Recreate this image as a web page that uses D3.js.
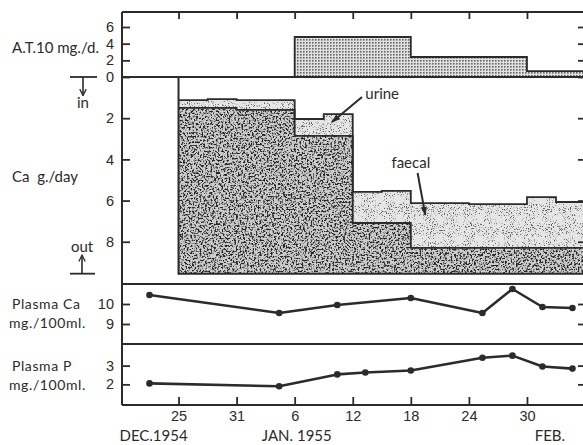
<!DOCTYPE html>
<html>
<head>
<meta charset="utf-8">
<script src="https://cdn.jsdelivr.net/npm/d3@7"></script>
<style>
    body { margin: 0; background: #fff; }
    svg { display: block; font-family: Lato, "Open Sans", sans-serif; }
    .axis text { font-size: 14.5px; fill: #2b2b2b; }
    .axis line { stroke: #2b2b2b; stroke-width: 1.8; }
    .axis path { display: none; }
    .label { font-size: 15px; fill: #2b2b2b; }
    .label.small { font-size: 14px; letter-spacing: 0.6px; }
</style>
</head>
<body>
<div id="chart"></div>
<script>
// days counted from 25 Dec 1954
const dayTicks = [0, 6, 12, 18, 24, 30, 36];
const dayTickLabels = ["25", "31", "6", "12", "18", "24", "30"];
const monthLabels = ["DEC.1954", "JAN. 1955", "FEB."];
const monthLabelDays = [-6.1, 8.6, 36.8];

// A.T.10 dose, mg/day, per period
const at10Bounds = [12, 24, 36, 42];
const at10Dose = [4.8, 2.4, 0.7];

// calcium balance, g/day (plotted downward from zero)
const caBounds = [0, 3, 6, 12, 15, 18, 21, 24, 30, 36, 39, 42];
const caLightTop = [1.12, 1.07, 1.12, 2.04, 1.80, 5.58, 5.53, 6.12, 6.17, 5.83, 6.07];
const caDarkTop = [1.50, 1.50, 1.60, 2.86, 2.86, 7.09, 7.09, 8.30, 8.30, 8.30, 8.30];
const caBase = 9.55;

// plasma values, mg/100ml
const plasmaCaDays = [-3, 10.4, 16.4, 24, 31.4, 34.5, 37.6, 40.7];
const plasmaCa = [10.45, 9.55, 9.95, 10.3, 9.55, 10.75, 9.85, 9.8];
const plasmaPDays = [-3, 10.4, 16.4, 19.3, 24, 31.4, 34.5, 37.6, 40.7];
const plasmaP = [2.05, 1.9, 2.53, 2.63, 2.74, 3.42, 3.53, 2.95, 2.84];

const ink = "#2b2b2b";
const W = 583, H = 445;
const left = 122, right = 586;
const rows = { top: 12, zero: 77, caBottom: 284, pBoundary: 344, bottom: 405 };

const svg = d3.select("#chart").append("svg")
    .attr("width", W)
    .attr("height", H);

const defs = svg.append("defs");

function grain(id, freq, gain, offset, speck) {
    const f = defs.append("filter")
        .attr("id", id)
        .attr("x", 0).attr("y", 0).attr("width", 1).attr("height", 1)
        .attr("color-interpolation-filters", "sRGB");
    f.append("feTurbulence")
        .attr("type", "fractalNoise")
        .attr("baseFrequency", freq)
        .attr("numOctaves", 2)
        .attr("seed", 5)
        .attr("result", "noise");
    f.append("feColorMatrix")
        .attr("in", "noise")
        .attr("type", "matrix")
        .attr("values", `0 0 0 0 ${speck} 0 0 0 0 ${speck} 0 0 0 0 ${speck} ${-gain} 0 0 0 ${offset}`)
        .attr("result", "specks");
    f.append("feComposite")
        .attr("in", "specks")
        .attr("in2", "SourceGraphic")
        .attr("operator", "in")
        .attr("result", "clipped");
    const m = f.append("feMerge");
    m.append("feMergeNode").attr("in", "SourceGraphic");
    m.append("feMergeNode").attr("in", "clipped");
}
grain("grain-dark", 0.55, 6, 3.1, 0.14);
grain("grain-light", 0.95, 8, 3.3, 0.38);

const dots = defs.append("pattern")
    .attr("id", "dots")
    .attr("patternUnits", "userSpaceOnUse")
    .attr("width", 3).attr("height", 3);
dots.append("rect").attr("width", 3).attr("height", 3).attr("fill", "#e0e0e0");
dots.append("rect").attr("width", 1.6).attr("height", 1.6).attr("fill", "#666");

defs.append("marker")
    .attr("id", "head")
    .attr("viewBox", "0 0 10 10")
    .attr("refX", 9).attr("refY", 5)
    .attr("markerUnits", "userSpaceOnUse")
    .attr("markerWidth", 9).attr("markerHeight", 9)
    .attr("orient", "auto")
    .append("path")
    .attr("d", "M0,1.5L10,5L0,8.5Z")
    .attr("fill", ink);

defs.append("marker")
    .attr("id", "vee")
    .attr("viewBox", "0 0 10 10")
    .attr("refX", 9).attr("refY", 5)
    .attr("markerUnits", "userSpaceOnUse")
    .attr("markerWidth", 8).attr("markerHeight", 8)
    .attr("orient", "auto")
    .append("path")
    .attr("d", "M1,1L9,5L1,9")
    .attr("fill", "none")
    .attr("stroke", ink)
    .attr("stroke-width", 1.6);

const x = d3.scaleLinear()
    .domain([-5.84, 42.1])
    .range([left, right]);

const yAt = d3.scaleLinear().domain([0, 7.8]).range([rows.zero, rows.top]);
const yCa = d3.scaleLinear().domain([0, 10.1]).range([rows.zero, rows.caBottom + 1]);
const yPCa = d3.scaleLinear().domain([8, 11]).range([rows.pBoundary, rows.caBottom]);
const yP = d3.scaleLinear().domain([0.9, 4.15]).range([rows.bottom, rows.pBoundary]);

function steps(bounds, ...series) {
    return bounds.map((b, i) => {
        const k = Math.min(i, series[0].length - 1);
        return { day: b, v: series.map(s => s[k]) };
    });
}

// A.T.10 bars
const atSteps = steps(at10Bounds, at10Dose);
svg.append("path")
    .datum(atSteps)
    .attr("fill", "url(#dots)")
    .attr("stroke", ink)
    .attr("stroke-width", 1.8)
    .attr("d", d3.area()
        .curve(d3.curveStepAfter)
        .x(d => x(d.day))
        .y0(yAt(0))
        .y1(d => yAt(d.v[0])));

// calcium balance
const caSteps = steps(caBounds, caLightTop, caDarkTop);

svg.append("path")
    .datum(caSteps)
    .attr("fill", "#e6e6e6")
    .attr("filter", "url(#grain-light)")
    .attr("d", d3.area()
        .curve(d3.curveStepAfter)
        .x(d => x(d.day))
        .y0(d => yCa(d.v[1]))
        .y1(d => yCa(d.v[0])));

svg.append("path")
    .datum(caSteps)
    .attr("fill", "#cdcdcd")
    .attr("filter", "url(#grain-dark)")
    .attr("d", d3.area()
        .curve(d3.curveStepAfter)
        .x(d => x(d.day))
        .y0(yCa(caBase))
        .y1(d => yCa(d.v[1])));

[0, 1].forEach(k => {
    svg.append("path")
        .datum(caSteps)
        .attr("fill", "none")
        .attr("stroke", ink)
        .attr("stroke-width", 1.8)
        .attr("d", d3.line()
            .curve(d3.curveStepAfter)
            .x(d => x(d.day))
            .y(d => yCa(d.v[k])));
});

svg.append("path")
    .attr("fill", "none")
    .attr("stroke", ink)
    .attr("stroke-width", 2)
    .attr("d", d3.line()([
        [x(caBounds[0]), yCa(0)],
        [x(caBounds[0]), yCa(caBase)],
        [x(caBounds[caBounds.length - 1]), yCa(caBase)]
    ]));

// plasma lines
function plasmaLine(days, values, y) {
    const pts = days.map((d, i) => ({ day: d, v: values[i] }));
    svg.append("path")
        .datum(pts)
        .attr("fill", "none")
        .attr("stroke", ink)
        .attr("stroke-width", 2.6)
        .attr("stroke-linejoin", "round")
        .attr("d", d3.line().x(d => x(d.day)).y(d => y(d.v)));
    svg.append("g")
        .selectAll("circle")
        .data(pts)
        .enter()
        .append("circle")
        .attr("cx", d => x(d.day))
        .attr("cy", d => y(d.v))
        .attr("r", 3.3)
        .attr("fill", ink);
}
plasmaLine(plasmaCaDays, plasmaCa, yPCa);
plasmaLine(plasmaPDays, plasmaP, yP);

// frame and panel rules
[rows.top, rows.zero, rows.caBottom, rows.pBoundary, rows.bottom].forEach(y => {
    svg.append("line")
        .attr("x1", left).attr("x2", right)
        .attr("y1", y).attr("y2", y)
        .attr("stroke", ink)
        .attr("stroke-width", 2);
});
[left, right].forEach(xx => {
    svg.append("line")
        .attr("x1", xx).attr("x2", xx)
        .attr("y1", rows.top).attr("y2", rows.bottom)
        .attr("stroke", ink)
        .attr("stroke-width", 2);
});

// value axes, ticks pointing inward on both sides
const panels = [
    { y: yAt, ticks: [0, 2, 4, 6] },
    { y: yCa, ticks: [2, 4, 6, 8] },
    { y: yPCa, ticks: [9, 10] },
    { y: yP, ticks: [2, 3] }
];
panels.forEach(p => {
    svg.append("g")
        .attr("class", "axis")
        .attr("transform", `translate(${left},0)`)
        .call(d3.axisLeft(p.y).tickValues(p.ticks).tickSize(-8).tickPadding(8).tickFormat(d3.format("d")));
    svg.append("g")
        .attr("class", "axis")
        .attr("transform", `translate(${right},0)`)
        .call(d3.axisRight(p.y).tickValues(p.ticks).tickSize(-8).tickFormat(""));
});

svg.append("g")
    .attr("class", "axis")
    .attr("transform", `translate(0,${rows.top})`)
    .call(d3.axisBottom(x).tickValues(dayTicks).tickSize(7).tickFormat(""));

svg.append("g")
    .attr("class", "axis")
    .attr("transform", `translate(0,${rows.bottom})`)
    .call(d3.axisBottom(x).tickValues(dayTicks).tickSize(-8).tickPadding(6)
        .tickFormat((d, i) => dayTickLabels[i]));

svg.selectAll(null)
    .data(monthLabels)
    .enter()
    .append("text")
    .attr("class", "label")
    .attr("x", (d, i) => x(monthLabelDays[i]))
    .attr("y", 441)
    .text(d => d);

// side labels
const sideLabels = [
    { text: "A.T.10 mg./d.", x: 12, y: 53, cls: "label" },
    { text: "Ca  g./day", x: 12, y: 182, cls: "label" },
    { text: "Plasma Ca", x: 12, y: 309, cls: "label small" },
    { text: "mg./100ml.", x: 9, y: 328, cls: "label small" },
    { text: "Plasma P", x: 12, y: 371, cls: "label small" },
    { text: "mg./100ml.", x: 9, y: 390, cls: "label small" }
];
svg.selectAll(null)
    .data(sideLabels)
    .enter()
    .append("text")
    .attr("class", d => d.cls)
    .style("white-space", "pre")
    .attr("x", d => d.x)
    .attr("y", d => d.y)
    .text(d => d.text);

// in / out arrows
svg.append("line")
    .attr("x1", 70).attr("x2", 97)
    .attr("y1", yCa(0)).attr("y2", yCa(0))
    .attr("stroke", ink).attr("stroke-width", 1.8);
svg.append("line")
    .attr("x1", 83).attr("x2", 83)
    .attr("y1", yCa(0)).attr("y2", yCa(0.9))
    .attr("stroke", ink).attr("stroke-width", 1.6)
    .attr("marker-end", "url(#vee)");
svg.append("text").attr("class", "label")
    .attr("x", 83).attr("y", 108)
    .attr("text-anchor", "middle")
    .text("in");

svg.append("line")
    .attr("x1", 70).attr("x2", 95)
    .attr("y1", yCa(caBase)).attr("y2", yCa(caBase))
    .attr("stroke", ink).attr("stroke-width", 1.8);
svg.append("line")
    .attr("x1", 82).attr("x2", 82)
    .attr("y1", yCa(caBase)).attr("y2", yCa(caBase - 0.9))
    .attr("stroke", ink).attr("stroke-width", 1.6)
    .attr("marker-end", "url(#vee)");
svg.append("text").attr("class", "label")
    .attr("x", 82).attr("y", 252)
    .attr("text-anchor", "middle")
    .text("out");

// urine / faecal annotations
svg.append("text").attr("class", "label")
    .attr("x", x(19.3)).attr("y", yCa(1.07))
    .text("urine");
svg.append("line")
    .attr("x1", x(18.96)).attr("y1", yCa(0.97))
    .attr("x2", x(15.86)).attr("y2", yCa(2.18))
    .attr("stroke", ink).attr("stroke-width", 2)
    .attr("marker-end", "url(#head)");

svg.append("text").attr("class", "label")
    .attr("x", x(22.0)).attr("y", yCa(4.4))
    .text("faecal");
svg.append("line")
    .attr("x1", x(24.7)).attr("y1", yCa(4.66))
    .attr("x2", x(25.5)).attr("y2", yCa(6.7))
    .attr("stroke", ink).attr("stroke-width", 2)
    .attr("marker-end", "url(#head)");
</script>
</body>
</html>
